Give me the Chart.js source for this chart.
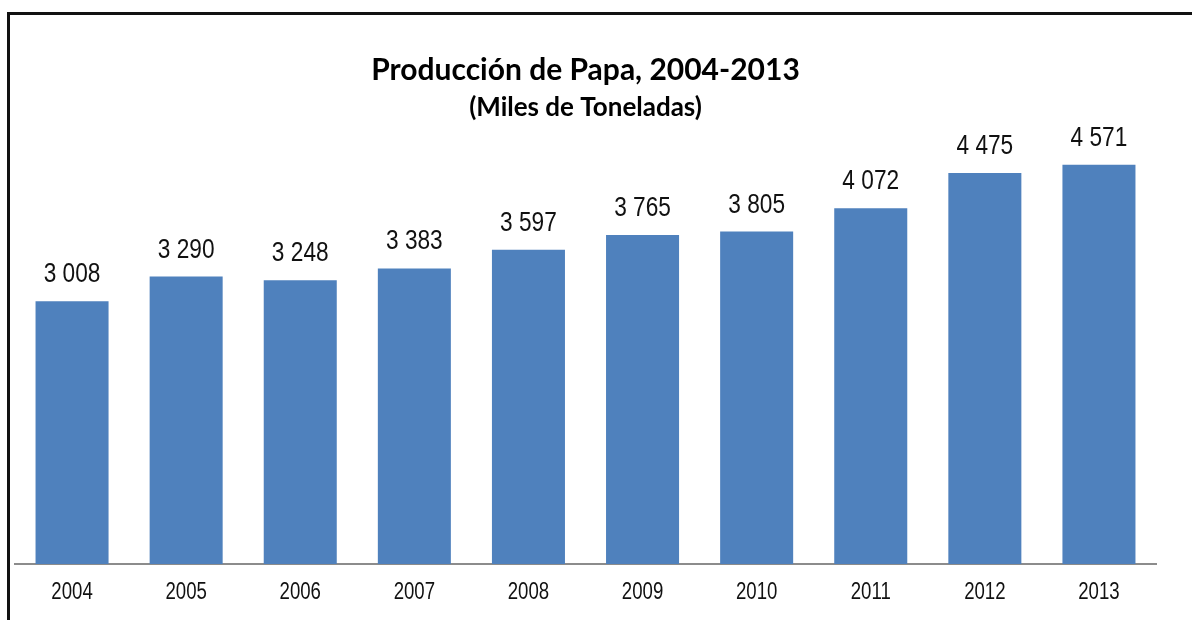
<!DOCTYPE html>
<html>
<head>
<meta charset="utf-8">
<script src="https://cdn.jsdelivr.net/npm/chart.js@4/dist/chart.umd.min.js"></script>
<style>
  html, body { margin: 0; padding: 0; background: #fff; overflow: hidden; }
  #wrap { position: relative; width: 1192px; height: 620px; }
  #frame {
    position: absolute; left: 7px; top: 12px; width: 1200px; height: 620px;
    border-left: 3px solid #111; border-top: 3px solid #111; box-sizing: border-box;
  }
  canvas { position: absolute; left: 0; top: 0; }
</style>
</head>
<body>
<div id="wrap">
  <canvas id="papa-chart" width="1192" height="620"></canvas>
  <div id="frame"></div>
</div>
<script>
  const years = ['2004', '2005', '2006', '2007', '2008', '2009', '2010', '2011', '2012', '2013'];
  const production = [3008, 3290, 3248, 3383, 3597, 3765, 3805, 4072, 4475, 4571];
  const chartTitle = 'Producción de Papa, 2004-2013';
  const chartSubtitle = '(Miles de Toneladas)';

  const labelFont = '"Liberation Sans", Arial, sans-serif';
  const squeeze = 0.81; // narrow look for the numbers

  // write 3008 as "3 008"
  function spaced(v) {
    return String(v).replace(/\B(?=(\d{3})+(?!\d))/g, ' ');
  }

  function narrowText(ctx, text, x, y) {
    ctx.save();
    ctx.translate(x, y);
    ctx.scale(squeeze, 1);
    ctx.fillText(text, 0, 0);
    ctx.restore();
  }

  // values above the bars and the year labels under the axis
  const barText = {
    id: 'barText',
    afterDatasetsDraw(chart) {
      const ctx = chart.ctx;
      const meta = chart.getDatasetMeta(0);
      const xScale = chart.scales.x;
      const axisY = chart.chartArea.bottom;
      ctx.save();
      ctx.fillStyle = '#111';
      ctx.textAlign = 'center';
      ctx.textBaseline = 'alphabetic';
      ctx.font = '28px ' + labelFont;
      meta.data.forEach(function (bar, i) {
        narrowText(ctx, spaced(chart.data.datasets[0].data[i]), bar.x, bar.y - 19);
      });
      ctx.font = '23px ' + labelFont;
      chart.data.labels.forEach(function (lab, i) {
        narrowText(ctx, lab, xScale.getPixelForValue(i), axisY + 35);
      });
      ctx.restore();
    }
  };

  const ctx = document.getElementById('papa-chart');
  new Chart(ctx, {
    type: 'bar',
    data: {
      labels: years,
      datasets: [{
        data: production,
        backgroundColor: '#4F81BD',
        borderWidth: 0,
        barPercentage: 0.64,
        categoryPercentage: 1
      }]
    },
    options: {
      responsive: false,
      animation: false,
      layout: { padding: { left: 15, right: 36, top: 0, bottom: 48 } },
      scales: {
        y: { display: false, min: 0, max: 5000 },
        x: {
          grid: { display: false },
          border: { display: true, color: '#8c8c8c', width: 2 },
          ticks: { display: false }
        }
      },
      plugins: {
        legend: { display: false },
        tooltip: { enabled: false },
        title: {
          display: true,
          text: chartTitle,
          color: '#000',
          font: { family: 'Lato, sans-serif', size: 30, weight: 'bold' },
          padding: { top: 52, bottom: 2 }
        },
        subtitle: {
          display: true,
          text: chartSubtitle,
          color: '#000',
          font: { family: 'Lato, sans-serif', size: 26, weight: 'bold' },
          padding: { top: 2, bottom: 4 }
        }
      }
    },
    plugins: [barText]
  });
</script>
</body>
</html>
